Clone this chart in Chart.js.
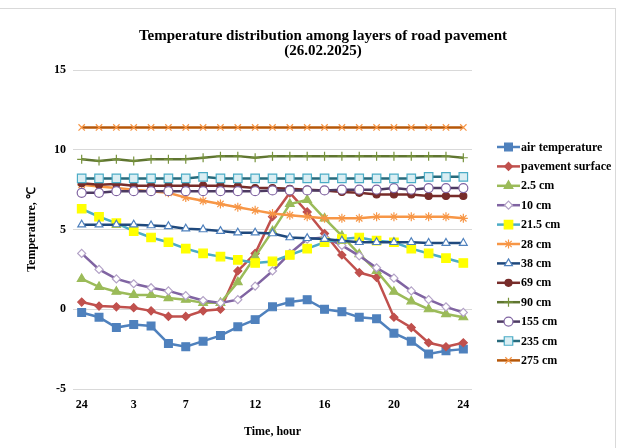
<!DOCTYPE html>
<html lang="en">
<head>
  <meta charset="UTF-8" />
  <title>Temperature distribution among layers of road pavement</title>
  <script src="https://cdn.jsdelivr.net/npm/chart.js"></script>
  <style>
    body { margin: 0; background: #fff; }
    .wrap { position: relative; width: 620px; height: 448px; }
    .frame { position: absolute; left: -2px; top: 8px; width: 616px; height: 460px; border: 1px solid #d9d9d9; }
    canvas { position: absolute; left: 0; top: 0; }
  </style>
</head>
<body>
  <div class="wrap">
    <div class="frame"></div>
    <canvas id="grafico" width="620" height="448"></canvas>
  </div>

<script>
  // hours along the x axis (only some are labelled)
  const hours = ['24','1','2','3','4','5','7','8','9','11','12','13','14','15','16','17','18','19','20','21','22','23','24'];
  const shownTicks = [0, 3, 6, 10, 14, 18, 22];
  const yTicks = [-5, 0, 5, 10, 15];
  const titulo = ['Temperature distribution among layers of road pavement', '(26.02.2025)'];

  // temperatures, °C
  const airTemp  = [-0.2,-0.5,-1.15,-0.95,-1.05,-2.15,-2.35,-2.0,-1.65,-1.1,-0.65,0.15,0.45,0.6,0.0,-0.15,-0.5,-0.6,-1.5,-2.0,-2.8,-2.6,-2.5];
  const surface  = [0.45,0.2,0.15,0.1,-0.1,-0.45,-0.45,-0.1,0.0,2.4,3.5,5.8,7.3,6.1,4.75,3.4,2.3,2.0,-0.5,-1.15,-2.1,-2.35,-2.1];
  const cm2_5    = [1.9,1.4,1.1,0.9,0.9,0.7,0.6,0.4,0.4,1.7,3.3,4.9,6.6,6.85,5.7,4.6,3.45,2.4,1.1,0.5,0.0,-0.3,-0.5];
  const cm10     = [3.5,2.5,1.9,1.6,1.35,1.15,0.85,0.55,0.4,0.6,1.45,2.4,3.5,4.4,4.5,4.0,3.35,2.6,1.95,1.15,0.6,0.15,-0.2];
  const cm21_5   = [6.3,5.8,5.4,4.9,4.5,4.2,3.8,3.5,3.3,3.1,2.9,3.0,3.4,3.8,4.2,4.4,4.5,4.3,4.2,3.8,3.5,3.2,2.9];
  const cm28     = [7.8,7.7,7.6,7.5,7.4,7.3,7.0,6.8,6.6,6.4,6.2,6.0,5.9,5.8,5.7,5.7,5.7,5.8,5.8,5.8,5.8,5.8,5.7];
  const cm38     = [5.3,5.3,5.3,5.3,5.25,5.2,5.05,5.0,4.9,4.8,4.8,4.75,4.5,4.45,4.4,4.3,4.2,4.2,4.2,4.2,4.15,4.15,4.15];
  const cm69     = [7.9,7.8,7.85,7.75,7.75,7.75,7.75,7.75,7.75,7.7,7.6,7.6,7.55,7.5,7.45,7.35,7.3,7.2,7.2,7.2,7.1,7.1,7.1];
  const cm90     = [9.4,9.3,9.4,9.3,9.4,9.4,9.4,9.5,9.6,9.6,9.5,9.6,9.6,9.6,9.6,9.6,9.6,9.6,9.6,9.6,9.6,9.6,9.5];
  const cm155    = [7.3,7.3,7.4,7.4,7.4,7.4,7.4,7.4,7.4,7.4,7.4,7.45,7.45,7.45,7.45,7.5,7.5,7.5,7.6,7.5,7.6,7.6,7.6];
  const cm235    = [8.2,8.2,8.2,8.2,8.2,8.2,8.2,8.3,8.2,8.2,8.2,8.2,8.2,8.2,8.2,8.2,8.2,8.2,8.2,8.2,8.3,8.3,8.3];
  const cm275    = [11.4,11.4,11.4,11.4,11.4,11.4,11.4,11.4,11.4,11.4,11.4,11.4,11.4,11.4,11.4,11.4,11.4,11.4,11.4,11.4,11.4,11.4,11.4];

  const serif = '"Liberation Serif", "Times New Roman", serif';

  function serie(label, data, line, marker, style, radius, fill) {
    return {
      label, data,
      borderColor: line,
      backgroundColor: line,
      borderWidth: 2.5,
      pointStyle: style,
      pointRadius: radius,
      pointHoverRadius: radius,
      pointBorderColor: marker,
      pointBackgroundColor: fill || marker,
      pointBorderWidth: 1.2,
      tension: 0
    };
  }

  const datasets = [
    serie('air temperature',   airTemp, '#4F81BD', '#4F81BD', 'rect', 5.5),
    serie('pavement surface',  surface, '#C0504D', '#C0504D', 'rectRot', 4),
    serie('2.5 cm',            cm2_5,   '#9BBB59', '#9BBB59', 'triangle', 5),
    serie('10 cm',             cm10,    '#8064A2', '#B3A2C7', 'rectRot', 4, '#ffffff'),
    serie('21.5 cm',           cm21_5,  '#4BACC6', '#FFFF00', 'rect', 6),
    serie('28 cm',             cm28,    '#F79646', '#F79646', 'star', 4.5),
    serie('38 cm',             cm38,    '#1F497D', '#4F81BD', 'triangle', 4.5, '#ffffff'),
    serie('69 cm',             cm69,    '#772C2A', '#772C2A', 'circle', 3.5),
    serie('90 cm',             cm90,    '#5F7530', '#77933C', 'cross', 4.5),
    serie('155 cm',            cm155,   '#4D3B62', '#8064A2', 'circle', 4.5, '#ffffff'),
    serie('235 cm',            cm235,   '#276A7C', '#4BACC6', 'rect', 6, '#DAEEF3'),
    serie('275 cm',            cm275,   '#B65708', '#F79646', 'crossRot', 4.5)
  ];
  // later series on top, like the spreadsheet
  datasets.forEach((d, i) => { d.order = datasets.length - i; });

  // title centred over the whole chart box, legend with line + marker
  const tituloELegenda = {
    id: 'tituloELegenda',
    afterDraw(chart) {
      const ctx = chart.ctx;
      ctx.save();
      ctx.fillStyle = '#000';
      ctx.font = 'bold 15px ' + serif;
      ctx.textAlign = 'center';
      ctx.textBaseline = 'middle';
      titulo.forEach((t, i) => ctx.fillText(t, 323, 36 + i * 15));
      ctx.restore();

      const x0 = 497, x1 = 520, y0 = 147, passo = 19.4;
      chart.data.datasets.forEach((d, i) => {
        const y = y0 + i * passo;
        ctx.save();
        ctx.strokeStyle = d.borderColor;
        ctx.lineWidth = 2.5;
        ctx.beginPath();
        ctx.moveTo(x0, y);
        ctx.lineTo(x1, y);
        ctx.stroke();
        ctx.fillStyle = d.pointBackgroundColor;
        ctx.strokeStyle = d.pointBorderColor;
        ctx.lineWidth = d.pointBorderWidth;
        Chart.helpers.drawPoint(ctx, {
          pointStyle: d.pointStyle,
          radius: d.pointRadius,
          rotation: 0,
          borderWidth: d.pointBorderWidth
        }, (x0 + x1) / 2, y);
        ctx.fillStyle = '#000';
        ctx.font = 'bold 12px ' + serif;
        ctx.textBaseline = 'middle';
        ctx.textAlign = 'left';
        ctx.fillText(d.label, x1 + 1, y + 0.5);
        ctx.restore();
      });
    }
  };

  new Chart(document.getElementById('grafico'), {
    type: 'line',
    data: { labels: hours, datasets },
    options: {
      responsive: false,
      animation: false,
      layout: { padding: { left: 24, right: 148, top: 70, bottom: 0 } },
      plugins: {
        legend: { display: false },
        tooltip: { enabled: false },
        title: { display: false }
      },
      scales: {
        x: {
          offset: true,
          afterFit: s => { s.height = 59; },
          grid: { display: false, drawTicks: false },
          border: { display: false },
          ticks: {
            autoSkip: false,
            maxRotation: 0,
            padding: 9,
            color: '#000',
            font: { family: serif, size: 12, weight: 'bold' },
            callback: (v, i) => shownTicks.includes(i) ? hours[i] : ''
          },
          title: {
            display: true,
            text: 'Time, hour',
            color: '#000',
            font: { family: serif, size: 12, weight: 'bold', lineHeight: 1.2 },
            padding: { top: 0, bottom: 9 }
          }
        },
        y: {
          min: -5,
          max: 15,
          afterFit: s => { s.width = 49; },
          afterBuildTicks: s => { s.ticks = yTicks.map(v => ({ value: v })); },
          grid: { color: '#d9d9d9', lineWidth: 1, drawTicks: false },
          border: { display: false },
          ticks: {
            padding: 7,
            color: '#000',
            font: { family: serif, size: 12, weight: 'bold' }
          },
          title: {
            display: true,
            text: 'Temperature, \u2103',
            color: '#000',
            font: { family: serif, size: 12, weight: 'bold', lineHeight: 1.2 },
            padding: { top: 1, bottom: 0 }
          }
        }
      }
    },
    plugins: [tituloELegenda]
  });
</script>
</body>
</html>
